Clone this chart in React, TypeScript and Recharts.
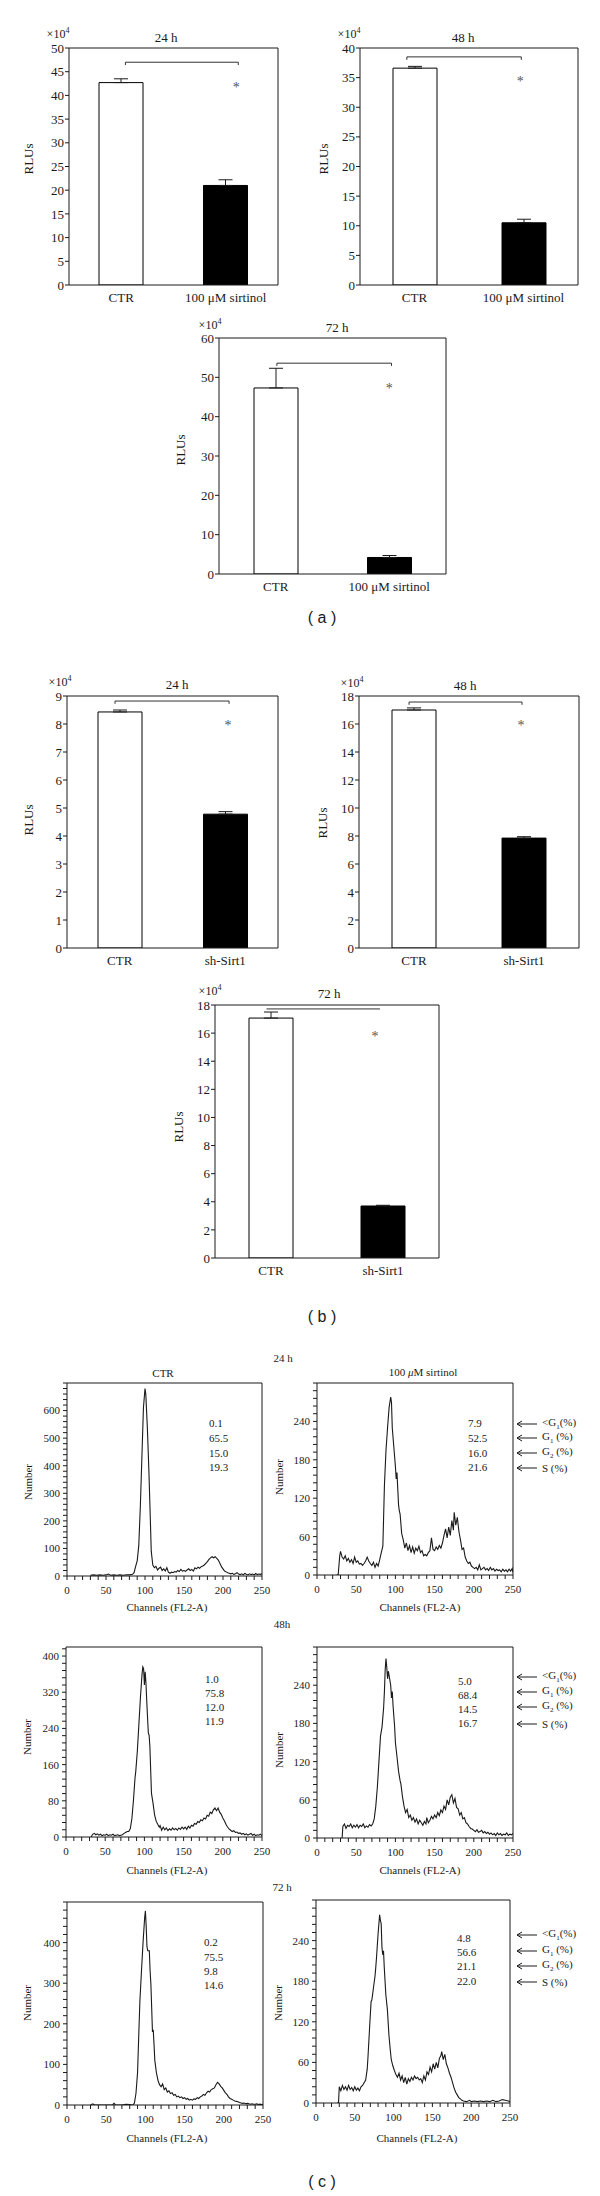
import React from 'react';
import {
  BarChart, Bar, Cell, ErrorBar, LineChart, Line,
  XAxis, YAxis, ReferenceLine, ReferenceDot,
} from 'recharts';

const FONT = "'Liberation Serif', 'DejaVu Serif', serif";
const INK = '#1a1a1a';

// (a) luciferase, sirtinol (x10^4 RLUs)
const groupsA = ['CTR', '100 μM sirtinol'];
const rluA24 = [42.7, 21.0];
const errA24 = [0.8, 1.2];
const rluA48 = [36.6, 10.5];
const errA48 = [0.3, 0.6];
const rluA72 = [47.3, 4.2];
const errA72 = [5.0, 0.5];

// (b) luciferase, sh-Sirt1 (x10^4 RLUs)
const groupsB = ['CTR', 'sh-Sirt1'];
const rluB24 = [8.43, 4.78];
const errB24 = [0.07, 0.09];
const rluB48 = [17.0, 7.85];
const errB48 = [0.15, 0.1];
const rluB72 = [17.07, 3.7];
const errB72 = [0.43, 0.05];

const ticksA24 = [0, 5, 10, 15, 20, 25, 30, 35, 40, 45, 50];
const ticksA48 = [0, 5, 10, 15, 20, 25, 30, 35, 40];
const ticksA72 = [0, 10, 20, 30, 40, 50, 60];
const ticksB24 = [0, 1, 2, 3, 4, 5, 6, 7, 8, 9];
const ticksB18 = [0, 2, 4, 6, 8, 10, 12, 14, 16, 18];

// (c) DNA content histograms: [channel, number]
const histCtr24: [number, number][] = [
  [30, 3], [34, 4], [38, 3], [42, 4], [46, 3], [50, 4], [53, 7], [56, 3], [60, 4], [64, 3], [68, 4], [72, 3],
  [76, 4], [80, 4], [84, 6], [86, 12], [88, 35], [90, 55], [92, 110], [94, 250], [96, 430], [98, 610], [100, 680],
  [101, 660], [103, 540], [105, 380], [107, 190], [108, 90], [110, 40], [112, 30], [114, 35], [116, 22], [118, 28],
  [120, 32], [122, 20], [124, 26], [126, 18], [128, 30], [130, 14], [132, 10], [134, 14], [136, 12], [138, 16],
  [140, 14], [142, 20], [144, 16], [146, 24], [148, 18], [150, 20], [152, 17], [154, 22], [156, 26], [158, 20],
  [160, 24], [162, 18], [164, 30], [166, 26], [168, 32], [170, 28], [172, 34], [174, 36], [176, 40], [178, 46],
  [180, 52], [182, 60], [184, 66], [186, 70], [188, 66], [190, 70], [192, 64], [194, 58], [196, 46], [198, 34],
  [200, 26], [202, 18], [204, 15], [206, 12], [208, 10], [210, 8], [212, 10], [214, 6], [216, 8], [218, 12],
  [220, 7], [222, 5], [224, 8], [226, 4], [228, 9], [230, 6], [232, 4], [234, 8], [236, 5], [238, 7], [240, 4],
  [242, 9], [244, 5], [246, 7], [248, 6], [250, 8],
];
const histSir24: [number, number][] = [
  [25, 0], [27, 0], [29, 30], [30, 37], [32, 28], [34, 25], [36, 30], [38, 22], [40, 26], [42, 20], [44, 24],
  [46, 18], [48, 28], [50, 20], [52, 22], [54, 17], [56, 18], [58, 15], [60, 18], [62, 22], [64, 28], [66, 22],
  [68, 18], [70, 15], [72, 20], [74, 12], [76, 18], [78, 14], [80, 24], [82, 35], [84, 45], [86, 140], [88, 195],
  [90, 230], [92, 262], [94, 278], [95, 270], [96, 230], [98, 200], [100, 170], [101, 150], [102, 160], [104, 110],
  [105, 100], [106, 95], [108, 65], [110, 55], [112, 42], [114, 50], [116, 38], [118, 46], [120, 35], [122, 44],
  [124, 34], [126, 42], [128, 38], [130, 45], [132, 35], [134, 38], [136, 30], [138, 32], [140, 30], [142, 35],
  [144, 38], [146, 58], [148, 40], [150, 38], [152, 44], [154, 40], [156, 46], [158, 42], [160, 50], [162, 62],
  [164, 72], [166, 58], [168, 75], [170, 62], [172, 85], [174, 70], [175, 98], [177, 78], [179, 90], [181, 68],
  [183, 55], [185, 40], [187, 42], [189, 28], [191, 22], [193, 18], [195, 20], [197, 14], [199, 12], [201, 10],
  [203, 12], [205, 8], [207, 16], [209, 8], [211, 10], [213, 12], [215, 8], [217, 10], [219, 7], [221, 12],
  [223, 8], [225, 10], [227, 6], [229, 9], [231, 7], [233, 8], [235, 5], [237, 9], [239, 6], [241, 8], [243, 5],
  [245, 9], [247, 6], [249, 10], [250, 4],
];
const histCtr48: [number, number][] = [
  [32, 0], [34, 6], [36, 8], [38, 5], [40, 7], [42, 4], [44, 6], [46, 3], [48, 5], [50, 4], [52, 6], [54, 3],
  [56, 5], [58, 4], [60, 6], [62, 3], [64, 4], [66, 5], [68, 3], [70, 4], [72, 5], [74, 8], [76, 10], [78, 12],
  [80, 12], [82, 18], [84, 40], [86, 80], [88, 130], [89, 145], [91, 190], [93, 250], [95, 310], [97, 360],
  [98, 376], [99, 372], [100, 336], [101, 365], [102, 340], [103, 300], [105, 230], [106, 225], [107, 200],
  [109, 97], [111, 75], [113, 49], [115, 35], [117, 28], [119, 22], [120, 25], [122, 15], [124, 22], [126, 16],
  [128, 20], [130, 14], [132, 18], [134, 15], [136, 20], [138, 16], [140, 19], [142, 15], [144, 20], [146, 17],
  [148, 22], [150, 18], [152, 22], [154, 17], [156, 24], [158, 20], [160, 26], [162, 24], [164, 30], [166, 28],
  [168, 34], [170, 32], [172, 38], [174, 36], [176, 42], [178, 40], [180, 48], [182, 46], [184, 55], [186, 52],
  [188, 60], [190, 64], [192, 58], [194, 64], [196, 55], [198, 50], [200, 42], [202, 36], [204, 28], [206, 22],
  [208, 18], [210, 15], [212, 12], [214, 14], [216, 10], [218, 11], [220, 8], [222, 9], [224, 6], [226, 8],
  [228, 5], [230, 7], [232, 4], [234, 6], [236, 8], [238, 4], [240, 6], [242, 3], [244, 5], [246, 4], [248, 6],
  [250, 3],
];
const histSir48: [number, number][] = [
  [32, 0], [33, 18], [35, 22], [37, 15], [39, 20], [41, 18], [43, 22], [45, 16], [47, 20], [49, 17], [51, 21],
  [53, 16], [55, 20], [57, 18], [59, 22], [61, 16], [63, 19], [65, 17], [67, 21], [69, 19], [71, 22], [73, 30],
  [75, 50], [77, 80], [79, 120], [81, 160], [83, 175], [85, 205], [86, 230], [87, 265], [88, 282], [89, 268],
  [90, 250], [91, 262], [92, 255], [94, 240], [95, 220], [96, 230], [97, 208], [99, 175], [100, 150], [102, 128],
  [104, 105], [106, 90], [107, 85], [109, 65], [111, 50], [113, 40], [115, 45], [117, 32], [119, 36], [121, 28],
  [123, 32], [125, 25], [127, 30], [129, 22], [131, 28], [133, 24], [135, 20], [137, 26], [139, 22], [140, 32],
  [142, 24], [144, 28], [146, 34], [148, 30], [150, 36], [152, 32], [154, 40], [156, 35], [158, 44], [160, 40],
  [162, 50], [164, 45], [166, 60], [168, 52], [170, 64], [172, 68], [174, 55], [176, 62], [178, 48], [180, 46],
  [182, 36], [184, 40], [186, 30], [188, 32], [190, 24], [192, 22], [194, 18], [196, 15], [198, 14], [200, 12],
  [202, 10], [204, 13], [206, 9], [208, 10], [210, 12], [212, 8], [214, 10], [216, 7], [218, 9], [220, 6],
  [222, 8], [224, 5], [226, 7], [228, 4], [230, 8], [232, 5], [234, 7], [236, 4], [238, 6], [240, 5], [242, 8],
  [244, 4], [246, 6], [248, 5], [250, 7],
];
const histCtr72: [number, number][] = [
  [30, 0], [33, 3], [35, 0], [58, 0], [60, 4], [62, 0], [70, 0], [75, 2], [80, 1], [84, 0], [86, 5], [88, 29],
  [90, 80], [92, 200], [93, 257], [95, 330], [97, 400], [99, 460], [100, 478], [101, 440], [102, 390], [103, 380],
  [105, 380], [106, 330], [107, 298], [108, 240], [109, 180], [110, 185], [111, 150], [112, 110], [114, 80],
  [116, 61], [118, 50], [120, 45], [122, 52], [124, 38], [126, 42], [128, 32], [130, 35], [132, 28], [134, 30],
  [136, 24], [138, 26], [140, 20], [142, 22], [144, 18], [146, 20], [148, 16], [150, 18], [152, 14], [154, 16],
  [156, 12], [158, 14], [160, 12], [162, 15], [164, 14], [166, 18], [168, 16], [170, 20], [172, 22], [174, 26],
  [176, 24], [178, 30], [180, 34], [182, 32], [184, 38], [186, 40], [188, 42], [190, 50], [192, 56], [194, 52],
  [196, 46], [198, 42], [200, 36], [202, 30], [204, 26], [206, 20], [208, 16], [210, 14], [212, 12], [214, 10],
  [216, 9], [218, 8], [220, 6], [222, 5], [224, 4], [226, 5], [228, 3], [230, 4], [232, 3], [234, 2], [236, 3],
  [238, 2], [240, 2], [242, 3], [244, 1], [246, 2], [248, 1], [250, 2],
];
const histSir72: [number, number][] = [
  [27, 0], [29, 0], [30, 24], [32, 18], [34, 26], [36, 20], [38, 24], [40, 19], [42, 26], [44, 20], [46, 23],
  [48, 18], [50, 24], [52, 19], [54, 22], [56, 18], [58, 24], [60, 26], [62, 30], [64, 34], [66, 50], [67, 68],
  [69, 110], [71, 150], [72, 152], [74, 170], [76, 187], [77, 200], [78, 215], [80, 250], [82, 278], [83, 270],
  [84, 265], [85, 230], [86, 219], [87, 225], [88, 200], [90, 160], [92, 138], [94, 100], [96, 75], [97, 64],
  [99, 55], [101, 48], [103, 42], [105, 38], [107, 44], [109, 34], [111, 40], [113, 30], [115, 38], [117, 28],
  [119, 36], [121, 32], [123, 38], [125, 34], [127, 40], [129, 36], [131, 38], [133, 34], [135, 36], [137, 30],
  [139, 40], [141, 34], [143, 46], [145, 42], [147, 53], [149, 46], [151, 58], [153, 50], [155, 60], [157, 52],
  [159, 66], [161, 70], [162, 76], [164, 64], [166, 72], [168, 58], [170, 52], [172, 44], [174, 38], [176, 30],
  [178, 22], [180, 16], [182, 12], [184, 8], [186, 6], [188, 4], [190, 3], [194, 2], [198, 4], [200, 2], [204, 3],
  [208, 2], [212, 3], [216, 2], [220, 3], [224, 2], [228, 4], [232, 2], [236, 3], [240, 5], [244, 4], [248, 3],
  [250, 2],
];

const chanTicks = [0, 10, 20, 30, 40, 50, 60, 70, 80, 90, 100, 110, 120, 130, 140, 150, 160, 170, 180, 190, 200, 210, 220, 230, 240, 250];
const numCtr24 = [0, 100, 200, 300, 400, 500, 600];
const numCtr48 = [0, 80, 160, 240, 320, 400];
const numCtr72 = [0, 100, 200, 300, 400];
const numSir = [0, 60, 120, 180, 240];

const phaseCtr24 = ['0.1', '65.5', '15.0', '19.3'];
const phaseSir24 = ['7.9', '52.5', '16.0', '21.6'];
const phaseCtr48 = ['1.0', '75.8', '12.0', '11.9'];
const phaseSir48 = ['5.0', '68.4', '14.5', '16.7'];
const phaseCtr72 = ['0.2', '75.5', '9.8', '14.6'];
const phaseSir72 = ['4.8', '56.6', '21.1', '22.0'];

function Txt({ x, y, size = 13, left = false, rot = false, family = FONT, children }: any) {
  const tr = `translate(${left ? '0' : '-50%'}, -50%)${rot ? ' rotate(-90deg)' : ''}`;
  return (
    <div style={{
      position: 'absolute', left: x, top: y, transform: tr, fontSize: size, fontFamily: family,
      lineHeight: 1, whiteSpace: 'nowrap', color: INK,
    }}>{children}</div>
  );
}

// two groups sit at 0.5 and 1.5 on a 0..2 numeric axis so the bracket can be placed freely
function BarPanel({ box, groups, vals, errs, yMax, ticks, bracket, star }: any) {
  const ML = 50, MT = 10, MR = 10, MB = 30;
  const data = groups.map((g: string, i: number) => ({ pos: i + 0.5, v: vals[i], err: [0, errs[i]] }));
  const { x1, x2, y, drop } = bracket;
  return (
    <div style={{ position: 'absolute', left: box.l - ML, top: box.t - MT }}>
      <BarChart
        width={box.r - box.l + ML + MR}
        height={box.b - box.t + MT + MB}
        data={data}
        margin={{ top: MT, right: MR, left: 0, bottom: 0 }}
      >
        <XAxis
          dataKey="pos" type="number" domain={[0, 2]} allowDataOverflow ticks={[0.5, 1.5]} interval={0}
          tickFormatter={(v: number) => groups[Math.floor(v)]}
          height={MB} tickLine={false} tickSize={6} tickMargin={2}
          axisLine={{ stroke: INK }} tick={{ fill: INK, fontSize: 13, fontFamily: FONT }}
        />
        <YAxis
          width={ML} domain={[0, yMax]} ticks={ticks} interval={0} allowDataOverflow
          tickSize={4} tickMargin={1} axisLine={{ stroke: INK }} tickLine={{ stroke: INK }}
          tick={{ fill: INK, fontSize: 13, fontFamily: FONT }}
        />
        <ReferenceLine y={yMax} stroke={INK} />
        <ReferenceLine x={2} stroke={INK} />
        <Bar dataKey="v" barSize={44} isAnimationActive={false}>
          {data.map((_: any, i: number) => (
            <Cell key={i} fill={i === 0 ? '#fff' : '#000'} stroke="#000" strokeWidth={1} />
          ))}
          <ErrorBar dataKey="err" width={7} stroke={INK} strokeWidth={1} direction="y" isAnimationActive={false} />
        </Bar>
        <ReferenceLine segment={[{ x: x1, y }, { x: x2, y }]} stroke="#333" />
        {drop ? <ReferenceLine segment={[{ x: x1, y }, { x: x1, y: y - drop }]} stroke="#333" /> : null}
        {drop ? <ReferenceLine segment={[{ x: x2, y }, { x: x2, y: y - drop }]} stroke="#333" /> : null}
        <ReferenceDot
          x={star.x} y={star.y} r={0} fill="none" stroke="none"
          label={{ value: '*', position: 'center', fill: '#555', fontSize: 14, fontFamily: FONT }}
        />
      </BarChart>
    </div>
  );
}

function Histo({ box, pts, yMax, major, minor }: any) {
  const ML = 40, MT = 10, MR = 10, MB = 30;
  const data = pts.map(([ch, n]: [number, number]) => ({ ch, n }));
  const yTicks: number[] = [];
  for (let t = 0; t <= yMax; t += minor) yTicks.push(t);
  return (
    <div style={{ position: 'absolute', left: box.l - ML, top: box.t - MT }}>
      <LineChart
        width={box.r - box.l + ML + MR}
        height={box.b - box.t + MT + MB}
        data={data}
        margin={{ top: MT, right: MR, left: 0, bottom: 0 }}
      >
        <XAxis
          dataKey="ch" type="number" domain={[0, 250]} allowDataOverflow ticks={chanTicks} interval={0}
          tickFormatter={(v: number) => (v % 50 === 0 ? String(v) : '')}
          height={MB} tickSize={4} tickMargin={6} axisLine={{ stroke: INK }} tickLine={{ stroke: INK }}
          tick={{ fill: INK, fontSize: 11, fontFamily: FONT }}
        />
        <YAxis
          type="number" domain={[0, yMax]} allowDataOverflow ticks={yTicks} interval={0}
          tickFormatter={(v: number) => (major.includes(v) ? String(v) : '')}
          width={ML} tickSize={4} tickMargin={3} axisLine={{ stroke: INK }} tickLine={{ stroke: INK }}
          tick={{ fill: INK, fontSize: 11, fontFamily: FONT }}
        />
        <ReferenceLine x={250} stroke={INK} />
        <ReferenceLine y={yMax} stroke={INK} />
        <Line dataKey="n" type="linear" stroke={INK} strokeWidth={1.1} dot={false} isAnimationActive={false} />
      </LineChart>
    </div>
  );
}

function Phases({ x, ys, vals }: any) {
  return <>{vals.map((v: string, i: number) => <Txt key={i} x={x} y={ys[i]} size={11} left>{v}</Txt>)}</>;
}

function PhaseKey({ ys }: any) {
  const names = [
    <>&lt;G<sub style={{ fontSize: 7 }}>1</sub>(%)</>,
    <>G<sub style={{ fontSize: 7 }}>1</sub> (%)</>,
    <>G<sub style={{ fontSize: 7 }}>2</sub> (%)</>,
    <>S (%)</>,
  ];
  return <>{ys.map((y: number, i: number) => <Txt key={i} x={542} y={y} size={11} left>{names[i]}</Txt>)}</>;
}

const arrowRows = [
  [1424, 1438, 1453, 1468],
  [1677, 1692, 1707, 1724],
  [1935, 1951, 1966, 1982],
];

const Xe4 = ({ x, y }: any) => (
  <Txt x={x} y={y} size={12}>×10<sup style={{ fontSize: 8 }}>4</sup></Txt>
);

export default function App() {
  return (
    <div style={{ position: 'absolute', left: 0, top: 0, width: 600, height: 2196, background: '#fff', fontFamily: FONT }}>
      {/* (a) sirtinol */}
      <BarPanel box={{ l: 69, t: 48, r: 278, b: 285 }} groups={groupsA} vals={rluA24} errs={errA24} yMax={50}
        ticks={ticksA24} bracket={{ x1: 0.54, x2: 1.62, y: 47.0, drop: 0.6 }} star={{ x: 1.6, y: 41.8 }} />
      <BarPanel box={{ l: 360, t: 48, r: 578, b: 285 }} groups={groupsA} vals={rluA48} errs={errA48} yMax={40}
        ticks={ticksA48} bracket={{ x1: 0.43, x2: 1.48, y: 38.5, drop: 0.5 }} star={{ x: 1.47, y: 34.5 }} />
      <BarPanel box={{ l: 219, t: 338, r: 446, b: 574 }} groups={groupsA} vals={rluA72} errs={errA72} yMax={60}
        ticks={ticksA72} bracket={{ x1: 0.51, x2: 1.52, y: 53.6, drop: 0.7 }} star={{ x: 1.5, y: 47.4 }} />
      <Txt x={166} y={37}>24 h</Txt>
      <Txt x={463} y={37}>48 h</Txt>
      <Txt x={337} y={327}>72 h</Txt>
      <Xe4 x={58} y={33} />
      <Xe4 x={349} y={33} />
      <Xe4 x={210} y={324} />
      <Txt x={28} y={159} rot>RLUs</Txt>
      <Txt x={323} y={159} rot>RLUs</Txt>
      <Txt x={180} y={450} rot>RLUs</Txt>
      <Txt x={322} y={618} size={16} family="'Liberation Sans', Arial, sans-serif">( a )</Txt>

      {/* (b) sh-Sirt1 */}
      <BarPanel box={{ l: 67, t: 696, r: 278, b: 948 }} groups={groupsB} vals={rluB24} errs={errB24} yMax={9}
        ticks={ticksB24} bracket={{ x1: 0.455, x2: 1.536, y: 8.82, drop: 0.1 }} star={{ x: 1.526, y: 7.98 }} />
      <BarPanel box={{ l: 359, t: 696, r: 579, b: 948 }} groups={groupsB} vals={rluB48} errs={errB48} yMax={18}
        ticks={ticksB18} bracket={{ x1: 0.455, x2: 1.482, y: 17.57, drop: 0.2 }} star={{ x: 1.473, y: 15.9 }} />
      <BarPanel box={{ l: 215, t: 1005, r: 439, b: 1258 }} groups={groupsB} vals={rluB72} errs={errB72} yMax={18}
        ticks={ticksB18} bracket={{ x1: 0.46, x2: 1.473, y: 17.72, drop: 0 }} star={{ x: 1.429, y: 15.8 }} />
      <Txt x={177} y={684}>24 h</Txt>
      <Txt x={465} y={685}>48 h</Txt>
      <Txt x={329} y={993}>72 h</Txt>
      <Xe4 x={60} y={681} />
      <Xe4 x={352} y={682} />
      <Xe4 x={210} y={990} />
      <Txt x={28} y={820} rot>RLUs</Txt>
      <Txt x={322} y={823} rot>RLUs</Txt>
      <Txt x={178} y={1127} rot>RLUs</Txt>
      <Txt x={322} y={1317} size={16} family="'Liberation Sans', Arial, sans-serif">( b )</Txt>

      {/* (c) cell cycle */}
      <Histo box={{ l: 67, t: 1383, r: 262, b: 1576 }} pts={histCtr24} yMax={700} major={numCtr24} minor={20} />
      <Histo box={{ l: 317, t: 1383, r: 513, b: 1575 }} pts={histSir24} yMax={300} major={numSir} minor={12} />
      <Histo box={{ l: 66, t: 1647, r: 262, b: 1837 }} pts={histCtr48} yMax={420} major={numCtr48} minor={16} />
      <Histo box={{ l: 317, t: 1647, r: 513, b: 1838 }} pts={histSir48} yMax={300} major={numSir} minor={12} />
      <Histo box={{ l: 67, t: 1902, r: 263, b: 2105 }} pts={histCtr72} yMax={500} major={numCtr72} minor={20} />
      <Histo box={{ l: 316, t: 1900, r: 510, b: 2103 }} pts={histSir72} yMax={300} major={numSir} minor={12} />

      <Txt x={163} y={1373} size={11}>CTR</Txt>
      <Txt x={423} y={1372} size={11}>100 <i>μ</i>M sirtinol</Txt>
      <Txt x={283} y={1358} size={11}>24 h</Txt>
      <Txt x={282} y={1624} size={11}>48h</Txt>
      <Txt x={282} y={1887} size={11}>72 h</Txt>

      <Txt x={28} y={1482} size={11} rot>Number</Txt>
      <Txt x={279} y={1477} size={11} rot>Number</Txt>
      <Txt x={27} y={1737} size={11} rot>Number</Txt>
      <Txt x={279} y={1750} size={11} rot>Number</Txt>
      <Txt x={27} y={2003} size={11} rot>Number</Txt>
      <Txt x={278} y={2003} size={11} rot>Number</Txt>

      <Txt x={167} y={1607} size={11}>Channels (FL2-A)</Txt>
      <Txt x={420} y={1607} size={11}>Channels (FL2-A)</Txt>
      <Txt x={167} y={1870} size={11}>Channels (FL2-A)</Txt>
      <Txt x={420} y={1870} size={11}>Channels (FL2-A)</Txt>
      <Txt x={167} y={2138} size={11}>Channels (FL2-A)</Txt>
      <Txt x={417} y={2138} size={11}>Channels (FL2-A)</Txt>

      <Phases x={209} ys={[1423, 1438, 1453, 1467]} vals={phaseCtr24} />
      <Phases x={468} ys={[1423, 1438, 1453, 1467]} vals={phaseSir24} />
      <Phases x={205} ys={[1679, 1693, 1707, 1721]} vals={phaseCtr48} />
      <Phases x={458} ys={[1681, 1695, 1709, 1723]} vals={phaseSir48} />
      <Phases x={204} ys={[1942, 1957, 1971, 1985]} vals={phaseCtr72} />
      <Phases x={457} ys={[1938, 1952, 1966, 1981]} vals={phaseSir72} />

      <svg width={600} height={2196} style={{ position: 'absolute', left: 0, top: 0, pointerEvents: 'none' }}>
        {arrowRows.flat().map((y, i) => (
          <g key={i} stroke={INK} strokeWidth={1} fill="none">
            <line x1={517} y1={y} x2={537} y2={y} />
            <polyline points={`522,${y - 3} 517,${y} 522,${y + 3}`} />
          </g>
        ))}
      </svg>
      {arrowRows.map((ys, i) => <PhaseKey key={i} ys={ys} />)}
      <Txt x={322} y={2182} size={16} family="'Liberation Sans', Arial, sans-serif">( c )</Txt>
    </div>
  );
}
